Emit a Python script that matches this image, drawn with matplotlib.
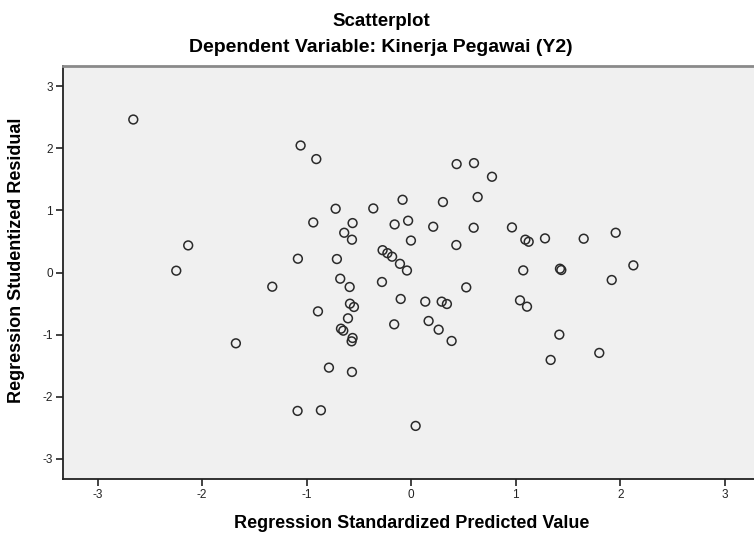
import matplotlib
matplotlib.use("Agg")
import matplotlib.pyplot as plt

predicted = [-2.658, -1.058, -0.908, -0.723, -0.363, -0.083, -0.937, -0.561, -0.159, -0.030,
             -0.641, -0.567, -0.003, -2.133, -0.274, -0.228, -0.183, -0.108, -0.041, -1.084,
             -0.711, -2.247, -1.329, -0.679, -0.589, -0.280, -0.101, -0.892, -0.586, -0.548,
             -0.605, -0.163, -0.672, -0.650, -0.561, -0.570, -1.677, -0.787, -0.567, -1.087,
             -0.864, 0.434, 0.600, 0.772, 0.303, 0.635, 0.210, 0.597, 0.963, 0.431,
             1.091, 1.123, 1.279, 1.649, 1.955, 1.071, 1.422, 1.435, 2.124, 1.917,
             0.526, 0.134, 0.291, 0.341, 1.040, 1.107, 0.166, 0.262, 0.386, 1.416,
             1.333, 1.798, 0.042]
residual = [2.467, 2.048, 1.829, 1.028, 1.033, 1.173, 0.807, 0.797, 0.775, 0.835,
            0.641, 0.529, 0.515, 0.437, 0.360, 0.312, 0.255, 0.140, 0.032, 0.222,
            0.217, 0.029, -0.229, -0.100, -0.234, -0.153, -0.427, -0.627, -0.503, -0.556,
            -0.739, -0.836, -0.906, -0.938, -1.056, -1.110, -1.142, -1.534, -1.604, -2.232,
            -2.222, 1.748, 1.764, 1.544, 1.136, 1.217, 0.738, 0.722, 0.727, 0.443,
            0.529, 0.496, 0.550, 0.545, 0.641, 0.034, 0.061, 0.040, 0.115, -0.121,
            -0.240, -0.470, -0.470, -0.508, -0.449, -0.551, -0.782, -0.922, -1.104, -1.002,
            -1.410, -1.297, -2.474]
ticks = [-3, -2, -1, 0, 1, 2, 3]

plt.rcParams['font.family'] = ['Liberation Sans', 'DejaVu Sans']

W, H = 754, 537
fig = plt.figure(figsize=(W / 100, H / 100), dpi=100)
fig.patch.set_facecolor('white')
ax = fig.add_axes([62.7 / W, 1 - 479 / H, (759.8 - 62.7) / W, (479 - 66) / H])
ax.set_facecolor('#f0f0f0')

ax.scatter(predicted, residual, s=40, facecolors='none', edgecolors='#2a2a2a', linewidths=1.1, zorder=3)

ax.set_xlim(-3.333, 3.333)
ax.set_ylim(-3.33, 3.33)
ax.set_xticks(ticks)
ax.set_yticks(ticks)
ax.set_xticklabels([str(t) for t in ticks])
ax.set_yticklabels([str(t) for t in ticks])
ax.tick_params(direction='out', length=5, width=1.2, colors='#222222', labelsize=8.5, pad=2)

for side in ['left', 'bottom']:
    ax.spines[side].set_color('#222222')
    ax.spines[side].set_linewidth(1.3)
ax.spines['top'].set_color('#8a8a8a')
ax.spines['top'].set_linewidth(2)
ax.spines['right'].set_visible(False)

ax.set_xlabel('Regression Standardized Predicted Value', fontsize=13, fontweight='bold', labelpad=10)
ax.set_ylabel('Regression Studentized Residual', fontsize=13, fontweight='bold')
ax.yaxis.set_label_coords(-0.054, 0.53)

fig.text(381 / W, 1 - 21 / H, 'Scatterplot', ha='center', va='center', fontsize=13.5, fontweight='bold')
fig.text(381 / W, 1 - 47 / H, 'Dependent Variable: Kinerja Pegawai (Y2)', ha='center', va='center',
         fontsize=14, fontweight='bold')

fig.savefig('out.png', dpi=100)
